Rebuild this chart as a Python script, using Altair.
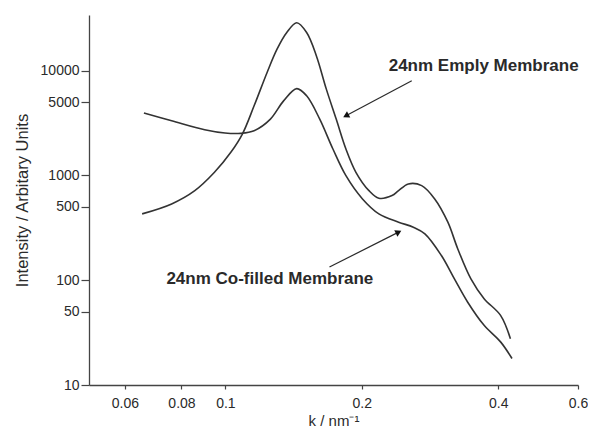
import altair as alt
import pandas as pd

# Empty membrane curve (k in nm^-1, intensity in arbitrary units)
empty_k = [0.0655, 0.0761, 0.0856, 0.0946, 0.1028, 0.1090, 0.1157, 0.1236, 0.1300, 0.1366,
           0.1437, 0.1511, 0.1588, 0.1670, 0.1756, 0.1845, 0.1941, 0.2074, 0.2181, 0.2332,
           0.2411, 0.2534, 0.2711, 0.2897, 0.3097, 0.3256, 0.3482, 0.3723, 0.4048, 0.4256]
empty_I = [430, 535, 716, 1072, 1663, 2484, 4624, 9616, 16030, 23120,
           28640, 23120, 13830, 6668, 3451, 1788, 1072, 716, 607, 643,
           716, 830, 800, 597, 358, 200, 103, 66.7, 46.2, 27.7]

# Co-filled membrane curve
cof_k = [0.0661, 0.0761, 0.0900, 0.0998, 0.1081, 0.1157, 0.1257, 0.1344, 0.1437, 0.1511,
         0.1615, 0.1727, 0.1845, 0.2007, 0.2181, 0.2411, 0.2599, 0.2756, 0.2997, 0.3202,
         0.3423, 0.3723, 0.4048, 0.4290]
cof_I = [3937, 3327, 2731, 2540, 2523, 2673, 3451, 5152, 6745, 5754,
         3451, 1788, 995, 597, 430, 358, 321, 277, 172, 103,
         62, 37.1, 25.8, 17.9]

x_ticks = [0.06, 0.08, 0.1, 0.2, 0.4, 0.6]
y_ticks = [10, 50, 100, 500, 1000, 5000, 10000]

# Annotations
labels = ["24nm Emply Membrane", "24nm Co-filled Membrane"]
label_k = [0.2293, 0.0741]
label_I = [11120, 103]
arrow_k0 = [0.2578, 0.1697]
arrow_I0 = [8000, 133.6]
arrow_k1 = [0.1845, 0.2411]
arrow_I1 = [3715, 288]
arrow_angle = [242, 63]

FONT = "Liberation Sans"
INK = "#2a2a2a"

lines_df = pd.DataFrame(
    {"k": empty_k + cof_k,
     "I": empty_I + cof_I,
     "series": ["Empty"] * len(empty_k) + ["Co-filled"] * len(cof_k)}
)
ann_df = pd.DataFrame({
    "label": labels, "lk": label_k, "lI": label_I,
    "k0": arrow_k0, "I0": arrow_I0, "k1": arrow_k1, "I1": arrow_I1,
    "angle": arrow_angle,
})

xscale = alt.Scale(type="log", domain=[0.05, 0.6], nice=False)
yscale = alt.Scale(type="log", domain=[10, 34000], nice=False)

xaxis = alt.Axis(values=x_ticks, format="~g", title="k / nm\u207b\u00b9", grid=False,
                 labelFlush=False, tickSize=4, labelPadding=7, titlePadding=3,
                 labelFontSize=14, titleFontSize=15)
yaxis = alt.Axis(values=y_ticks, format="d", title="Intensity / Arbitary Units", grid=False,
                 labelFlush=False, tickSize=8, labelPadding=2, titlePadding=10,
                 labelFontSize=14, titleFontSize=16.5)

lines = alt.Chart(lines_df).mark_line(
    color="#333", strokeWidth=1.6, interpolate="catmull-rom"
).encode(
    x=alt.X("k:Q", scale=xscale, axis=xaxis),
    y=alt.Y("I:Q", scale=yscale, axis=yaxis),
    detail="series:N",
)

arrows = alt.Chart(ann_df).mark_rule(color=INK, strokeWidth=1.2).encode(
    x=alt.X("k0:Q", scale=xscale), y=alt.Y("I0:Q", scale=yscale),
    x2="k1:Q", y2="I1:Q",
)

heads = alt.Chart(ann_df).mark_point(
    shape="triangle-up", filled=True, size=50, color="#111", opacity=1
).encode(
    x=alt.X("k1:Q", scale=xscale), y=alt.Y("I1:Q", scale=yscale),
    angle=alt.Angle("angle:Q", scale=None),
)

texts = alt.Chart(ann_df).mark_text(
    align="left", baseline="middle", fontSize=17, fontWeight="bold",
    font=FONT, color=INK
).encode(
    x=alt.X("lk:Q", scale=xscale), y=alt.Y("lI:Q", scale=yscale), text="label:N",
)

chart = alt.layer(lines, arrows, heads, texts).properties(
    width=489, height=370,
    autosize=alt.AutoSizeParams(type="none"),
    padding={"left": 81, "top": 7, "right": 10, "bottom": 45},
).configure_view(stroke=None).configure_axis(
    labelFont=FONT, titleFont=FONT, labelColor=INK, titleColor=INK,
    domainColor="#444", tickColor="#444", domainWidth=1.3, tickWidth=1.2,
    titleFontWeight="normal",
)

chart.save("out.html", embed_options={"renderer": "svg", "actions": False})
